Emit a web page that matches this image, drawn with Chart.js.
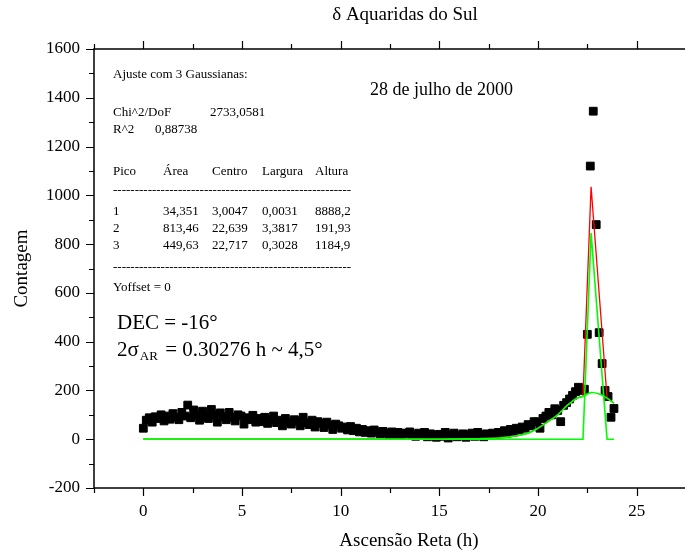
<!DOCTYPE html>
<html>
<head>
<meta charset="utf-8">
<script src="https://cdn.jsdelivr.net/npm/chart.js@4.4.1/dist/chart.umd.min.js"></script>
<style>
  html, body { margin: 0; padding: 0; background: #fff; overflow: hidden; }
</style>
</head>
<body>
<canvas id="chart" width="700" height="558"></canvas>
<script>
// observed counts, right ascension in hours
var raHours = [
  0, 0.15, 0.3, 0.45, 0.6, 0.75, 0.9, 1.05, 1.2, 1.35,
  1.5, 1.65, 1.8, 1.95, 2.1, 2.25, 2.4, 2.55, 2.7, 2.85,
  3, 3.15, 3.3, 3.45, 3.6, 3.75, 3.9, 4.05, 4.2, 4.35,
  4.5, 4.65, 4.8, 4.95, 5.1, 5.25, 5.4, 5.55, 5.7, 5.85,
  6, 6.15, 6.3, 6.45, 6.6, 6.75, 6.9, 7.05, 7.2, 7.35,
  7.5, 7.65, 7.8, 7.95, 8.1, 8.25, 8.4, 8.55, 8.7, 8.85,
  9, 9.15, 9.3, 9.45, 9.6, 9.75, 9.9, 10.05, 10.2, 10.35,
  10.5, 10.65, 10.8, 10.95, 11.1, 11.25, 11.4, 11.55, 11.7, 11.85,
  12, 12.15, 12.3, 12.45, 12.6, 12.75, 12.9, 13.05, 13.2, 13.35,
  13.5, 13.65, 13.8, 13.95, 14.1, 14.25, 14.4, 14.55, 14.7, 14.85,
  15, 15.15, 15.3, 15.45, 15.6, 15.75, 15.9, 16.05, 16.2, 16.35,
  16.5, 16.65, 16.8, 16.95, 17.1, 17.25, 17.4, 17.55, 17.7, 17.85,
  18, 18.15, 18.3, 18.45, 18.6, 18.75, 18.9, 19.05, 19.2, 19.35,
  19.5, 19.65, 19.8, 19.95, 20.1, 20.25, 20.4, 20.55, 20.7, 20.85,
  21, 21.15, 21.3, 21.45, 21.6, 21.75, 21.9, 22.05, 22.2, 22.35,
  22.5, 22.65, 22.8, 22.95, 23.1, 23.25, 23.4, 23.55, 23.7, 23.85
];
var counts = [
  45, 78, 88, 70, 92, 85, 100, 75, 95, 82,
  105, 90, 80, 110, 95, 140, 88, 120, 100, 78,
  115, 95, 85, 122, 100, 70, 108, 92, 80, 110,
  90, 75, 100, 95, 62, 88, 80, 98, 70, 85,
  72, 90, 65, 80, 95, 68, 78, 55, 85, 70,
  62, 80, 75, 55, 90, 68, 60, 78, 50, 72,
  65, 48, 70, 58, 40, 62, 55, 45, 50, 38,
  52, 35, 45, 30, 40, 28, 35, 25, 38, 30,
  22, 32, 25, 18, 30, 20, 28, 15, 25, 22,
  30, 18, 12, 25, 20, 28, 10, 22, 15, 8,
  20, 12, 28, 5, 18, 25, 10, 15, 22, 8,
  18, 25, 12, 28, 20, 10, 22, 15, 25, 18,
  28, 22, 35, 25, 40, 30, 45, 38, 50, 45,
  60, 55, 72, 71, 45, 85, 95, 110, 100, 125,
  118, 72, 139, 150, 165, 180, 195, 213, 200, 205,
  430, 1120, 1345, 880, 437, 310, 200, 175, 90, 126
];

// fitted curves
var broadHours = [0, 15, 16, 17, 18, 19, 19.5, 20, 20.5, 21, 21.5, 22, 22.28, 22.69, 23.1, 23.5, 23.85];
var broadPeak = [0, 0, 1, 2, 5, 15, 25, 45, 72, 100, 140, 170, 176, 191, 185, 168, 148];
var narrowHours = [0, 22.28, 22.69, 23.5, 23.85];
var narrowPeak = [0, 0, 845, 0, 0];
var totalHours = [0, 15, 16, 17, 18, 19, 19.5, 20, 20.5, 21, 21.5, 22, 22.28, 22.69, 23.5, 23.85];
var totalFit = [0, 0, 1, 2, 5, 15, 25, 45, 72, 100, 140, 170, 176, 1035, 168, 148];

// fit table
var tableHeader = ['Pico', 'Área', 'Centro', 'Largura', 'Altura'];
var tableRows = [
  ['1', '34,351', '3,0047', '0,0031', '8888,2'],
  ['2', '813,46', '22,639', '3,3817', '191,93'],
  ['3', '449,63', '22,717', '0,3028', '1184,9']
];

var SERIF = '"Liberation Serif", "Times New Roman", serif';

function toPoints(xs, ys) {
  return xs.map(function (x, i) { return { x: x, y: ys[i] }; });
}

// frame, ticks on all four sides, and the text annotations
var framePlugin = {
  id: 'frame',
  afterDraw: function (chart) {
    var ctx = chart.ctx;
    var a = chart.chartArea;
    var xs = chart.scales.x;
    var ys = chart.scales.y;
    ctx.save();
    ctx.strokeStyle = '#000';
    ctx.lineWidth = 1.5;
    ctx.strokeRect(a.left, a.top, a.right - a.left, a.bottom - a.top);

    ctx.lineWidth = 1.2;
    ctx.beginPath();
    xs.ticks.forEach(function (t) {
      if (Math.abs(t.value / 2.5 - Math.round(t.value / 2.5)) > 1e-6) return;
      var len = (t.value % 5 === 0) ? 8 : 5;
      var px = Math.round(xs.getPixelForValue(t.value)) + 0.5;
      ctx.moveTo(px, a.bottom); ctx.lineTo(px, a.bottom + len);
      ctx.moveTo(px, a.top); ctx.lineTo(px, a.top - len);
    });
    ys.ticks.forEach(function (t) {
      var len = (t.value % 200 === 0) ? 8 : 5;
      var py = Math.round(ys.getPixelForValue(t.value)) + 0.5;
      ctx.moveTo(a.left, py); ctx.lineTo(a.left - len, py);
      ctx.moveTo(a.right, py); ctx.lineTo(a.right + len, py);
    });
    ctx.stroke();

    ctx.fillStyle = '#000';
    ctx.textBaseline = 'middle';
    ctx.textAlign = 'center';
    ctx.font = '19px ' + SERIF;
    ctx.fillText('δ Aquaridas do Sul', 405, 15);
    ctx.fillText('Ascensão Reta (h)', 409, 541);

    ctx.textAlign = 'left';
    ctx.font = '13px ' + SERIF;
    ctx.fillText('Ajuste com 3 Gaussianas:', 113, 75);
    ctx.fillText('Chi^2/DoF', 113, 113);
    ctx.fillText('2733,0581', 210, 113);
    ctx.fillText('R^2', 113, 130);
    ctx.fillText('0,88738', 155, 130);
    var cols = [113, 163, 212, 262, 315];
    tableHeader.forEach(function (h, i) { ctx.fillText(h, cols[i], 172); });
    tableRows.forEach(function (r, j) {
      r.forEach(function (c, i) { ctx.fillText(c, cols[i], 212 + j * 17); });
    });
    var dashes = '';
    while (ctx.measureText(dashes + '-').width < 240) dashes += '-';
    ctx.fillText(dashes, 113, 191);
    ctx.fillText(dashes, 113, 268);
    ctx.fillText('Yoffset = 0', 113, 288);

    ctx.font = '18px ' + SERIF;
    ctx.fillText('28 de julho de 2000', 370, 90);

    ctx.font = '21px ' + SERIF;
    ctx.fillText('DEC = -16°', 117, 323);
    var x0 = 117;
    ctx.fillText('2σ', x0, 350);
    x0 += ctx.measureText('2σ').width;
    ctx.font = '13px ' + SERIF;
    ctx.fillText('AR', x0 + 1, 357);
    x0 += ctx.measureText('AR').width + 3;
    ctx.font = '21px ' + SERIF;
    ctx.fillText(' = 0.30276 h ~ 4,5°', x0, 350);
    ctx.restore();
  }
};

var ctx = document.getElementById('chart');
new Chart(ctx, {
  type: 'scatter',
  data: {
    datasets: [{
        label: 'Pico 3',
        data: toPoints(narrowHours, narrowPeak),
        showLine: true,
        borderColor: '#00ff00',
        borderWidth: 1.6,
        pointRadius: 0,
        tension: 0
      }, {
        label: 'Pico 2',
        data: toPoints(broadHours, broadPeak),
        showLine: true,
        borderColor: '#00ff00',
        borderWidth: 1.6,
        pointRadius: 0,
        tension: 0.3
      }, {
        label: 'Ajuste',
        data: toPoints(totalHours, totalFit),
        showLine: true,
        borderColor: '#ff0000',
        borderWidth: 1.3,
        pointRadius: 0,
        tension: 0
      }, {
        label: 'Contagem',
        data: toPoints(raHours, counts),
        pointStyle: 'rect',
        pointRadius: 5.5,
        backgroundColor: '#000',
        borderColor: '#000',
        borderWidth: 1
      }
    ]
  },
  options: {
    responsive: false,
    animation: false,
    layout: {
      padding: { top: 49, right: 14, left: 0, bottom: 0 }
    },
    plugins: {
      legend: { display: false },
      tooltip: { enabled: false }
    },
    scales: {
      x: {
        type: 'linear',
        min: -2.5,
        max: 27.5,
        grid: { display: false, drawTicks: false },
        border: { display: false },
        ticks: {
          stepSize: 2.5,
          autoSkip: false,
          maxRotation: 0,
          padding: 13,
          color: '#000',
          font: { family: SERIF, size: 17 },
          callback: function (v) { return v % 5 === 0 ? v : ''; }
        },
        afterFit: function (s) { s.height = 70; }
      },
      y: {
        min: -200,
        max: 1600,
        grid: { display: false, drawTicks: false },
        border: { display: false },
        ticks: {
          stepSize: 100,
          autoSkip: false,
          padding: 14,
          color: '#000',
          font: { family: SERIF, size: 17 },
          callback: function (v) { return v % 200 === 0 ? v : ''; }
        },
        title: {
          display: true,
          text: 'Contagem',
          color: '#000',
          font: { family: SERIF, size: 19 },
          padding: { top: 11, bottom: 0 }
        },
        afterFit: function (s) { s.width = 94; }
      }
    }
  },
  plugins: [framePlugin]
});
</script>
</body>
</html>
